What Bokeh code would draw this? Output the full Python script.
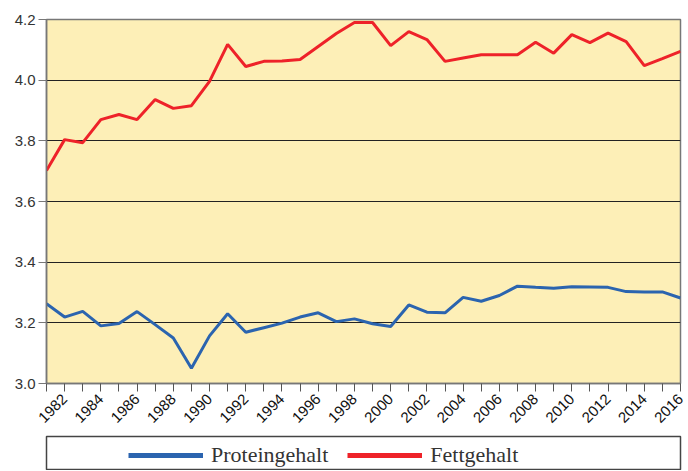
import math
from bokeh.plotting import figure
from bokeh.layouts import column
from bokeh.models import FixedTicker, Legend, LegendItem, Range1d, PrintfTickFormatter
from bokeh.embed import file_html
from bokeh.resources import INLINE

years = list(range(1981, 2017))
fettgehalt = [3.702, 3.804, 3.794, 3.870, 3.887, 3.870, 3.936, 3.907, 3.916, 3.996,
              4.118, 4.045, 4.062, 4.063, 4.068, 4.111, 4.154, 4.190, 4.190, 4.114,
              4.160, 4.134, 4.062, 4.073, 4.084, 4.084, 4.084, 4.125, 4.089, 4.150,
              4.124, 4.155, 4.127, 4.048, 4.071, 4.095]
proteingehalt = [3.263, 3.219, 3.238, 3.190, 3.198, 3.237, 3.194, 3.150, 3.050, 3.157,
                 3.230, 3.169, 3.184, 3.199, 3.219, 3.233, 3.204, 3.213, 3.197, 3.188,
                 3.259, 3.235, 3.233, 3.284, 3.271, 3.290, 3.321, 3.317, 3.314, 3.319,
                 3.318, 3.317, 3.303, 3.302, 3.302, 3.282]
x_label_years = list(range(1982, 2017, 2))
x_minor_years = list(range(1981, 2016, 2))
y_ticks = [3.0, 3.2, 3.4, 3.6, 3.8, 4.0, 4.2]
series_names = ["Proteingehalt", "Fettgehalt"]

BLUE = "#2B64AF"
RED = "#EE2229"

p = figure(width=686, height=433, x_range=Range1d(1981, 2016), y_range=Range1d(3.0, 4.2),
           output_backend="svg", toolbar_location=None,
           min_border_left=44, min_border_right=6, min_border_top=19, min_border_bottom=50,
           background_fill_color="#FDEFB7", border_fill_color="white",
           outline_line_color="#777777", outline_line_width=1.5)

p.line(years, proteingehalt, line_color=BLUE, line_width=3)
p.line(years, fettgehalt, line_color=RED, line_width=3)

p.xgrid.visible = False
p.ygrid.ticker = FixedTicker(ticks=y_ticks)
p.ygrid.grid_line_color = "#222222"
p.ygrid.grid_line_width = 1

xa = p.xaxis[0]
xa.ticker = FixedTicker(ticks=x_label_years, minor_ticks=x_minor_years)
xa.major_label_orientation = math.pi / 4
xa.major_label_text_font = "Liberation Sans"
xa.major_label_text_font_size = "15px"
xa.major_label_text_color = "#111111"
xa.major_tick_out = 8
xa.major_tick_in = 0
xa.minor_tick_out = 8
xa.minor_tick_in = 0
xa.axis_line_color = "#777777"
xa.axis_line_width = 1.5
xa.major_tick_line_color = "#555555"
xa.minor_tick_line_color = "#555555"
xa.major_label_standoff = 5

ya = p.yaxis[0]
ya.ticker = FixedTicker(ticks=y_ticks)
ya.formatter = PrintfTickFormatter(format="%.1f")
ya.major_label_text_font = "Liberation Sans"
ya.major_label_text_font_size = "15px"
ya.major_label_text_color = "#333333"
ya.major_tick_out = 8
ya.major_tick_in = 0
ya.minor_tick_line_color = None
ya.axis_line_color = "#777777"
ya.axis_line_width = 1.5
ya.major_tick_line_color = "#777777"
ya.major_label_standoff = 3

# legend panel
p2 = figure(width=686, height=37, x_range=Range1d(0, 1), y_range=Range1d(0, 1),
            output_backend="svg", toolbar_location=None,
            x_axis_location=None, y_axis_location=None,
            min_border_left=46, min_border_right=3, min_border_top=3, min_border_bottom=1,
            outline_line_color="#444444", outline_line_width=1.5,
            background_fill_color="white", border_fill_color="white")
p2.grid.visible = False
r1 = p2.line(x=[-5, -4], y=[-5, -4], line_color=BLUE, line_width=5)
r2 = p2.line(x=[-5, -4], y=[-5, -4], line_color=RED, line_width=5)
legend = Legend(items=[LegendItem(label=series_names[0], renderers=[r1]),
                       LegendItem(label=series_names[1], renderers=[r2])],
                orientation="horizontal", location=(82, 1),
                glyph_width=75, glyph_height=20, label_standoff=8, spacing=19,
                padding=0, margin=0,
                label_text_font="Liberation Serif", label_text_font_size="22px",
                label_text_color="#333333",
                border_line_alpha=0, background_fill_alpha=0)
p2.add_layout(legend)

layout = column(p, p2)
open("out.html", "w").write(file_html(layout, INLINE))
